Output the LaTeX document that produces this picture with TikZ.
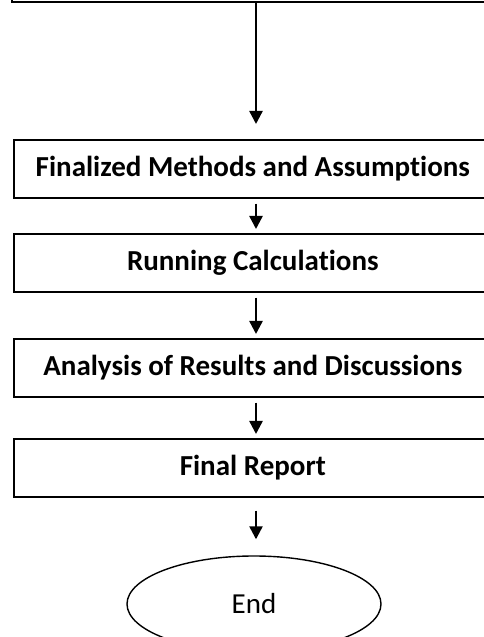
\documentclass[tikz,border=0pt]{standalone}
\usepackage{fontspec}
\setmainfont{Carlito}[Ligatures=NoCommon]
\usetikzlibrary{arrows.meta,shapes.geometric}
\begin{document}
\begin{tikzpicture}[x=1pt,y=1pt,
  stepbox/.style={draw=black,line width=1.6pt,minimum width=478pt,minimum height=58pt,
    font=\fontsize{29}{34}\selectfont\bfseries,inner sep=0pt},
  endnode/.style={draw=black,line width=1.4pt,ellipse,minimum width=254pt,minimum height=96pt,
    font=\fontsize{29}{34}\selectfont,inner sep=0pt},
  flow/.style={line width=2.4pt,-{Triangle[length=13pt,width=13pt]}}]
\useasboundingbox (0,0) rectangle (483,637);
\node[stepbox,anchor=south west] (top) at (11,634) {};
\node[stepbox,anchor=north west] (b1) at (13,498) {Finalized Methods and Assumptions};
\node[stepbox,anchor=north west] (b2) at (13,404) {Running Calculations};
\node[stepbox,anchor=north west] (b3) at (13,299) {Analysis of Results and Discussions};
\node[stepbox,anchor=north west] (b4) at (13,199) {Final Report};
\node[endnode] (e) at (254,33) {End};
\coordinate (axis) at (256,0);
\draw[flow,shorten >=15pt] (top.south -| axis) -- (b1.north -| axis);
\draw[flow,shorten <=5pt,shorten >=4pt] (b1.south -| axis) -- (b2.north -| axis);
\draw[flow,shorten <=5pt,shorten >=4pt] (b2.south -| axis) -- (b3.north -| axis);
\draw[flow,shorten <=5pt,shorten >=4pt] (b3.south -| axis) -- (b4.north -| axis);
\draw[flow,shorten <=13pt,shorten >=16pt] (b4.south -| axis) -- (e.north -| axis);
\end{tikzpicture}
\end{document}
